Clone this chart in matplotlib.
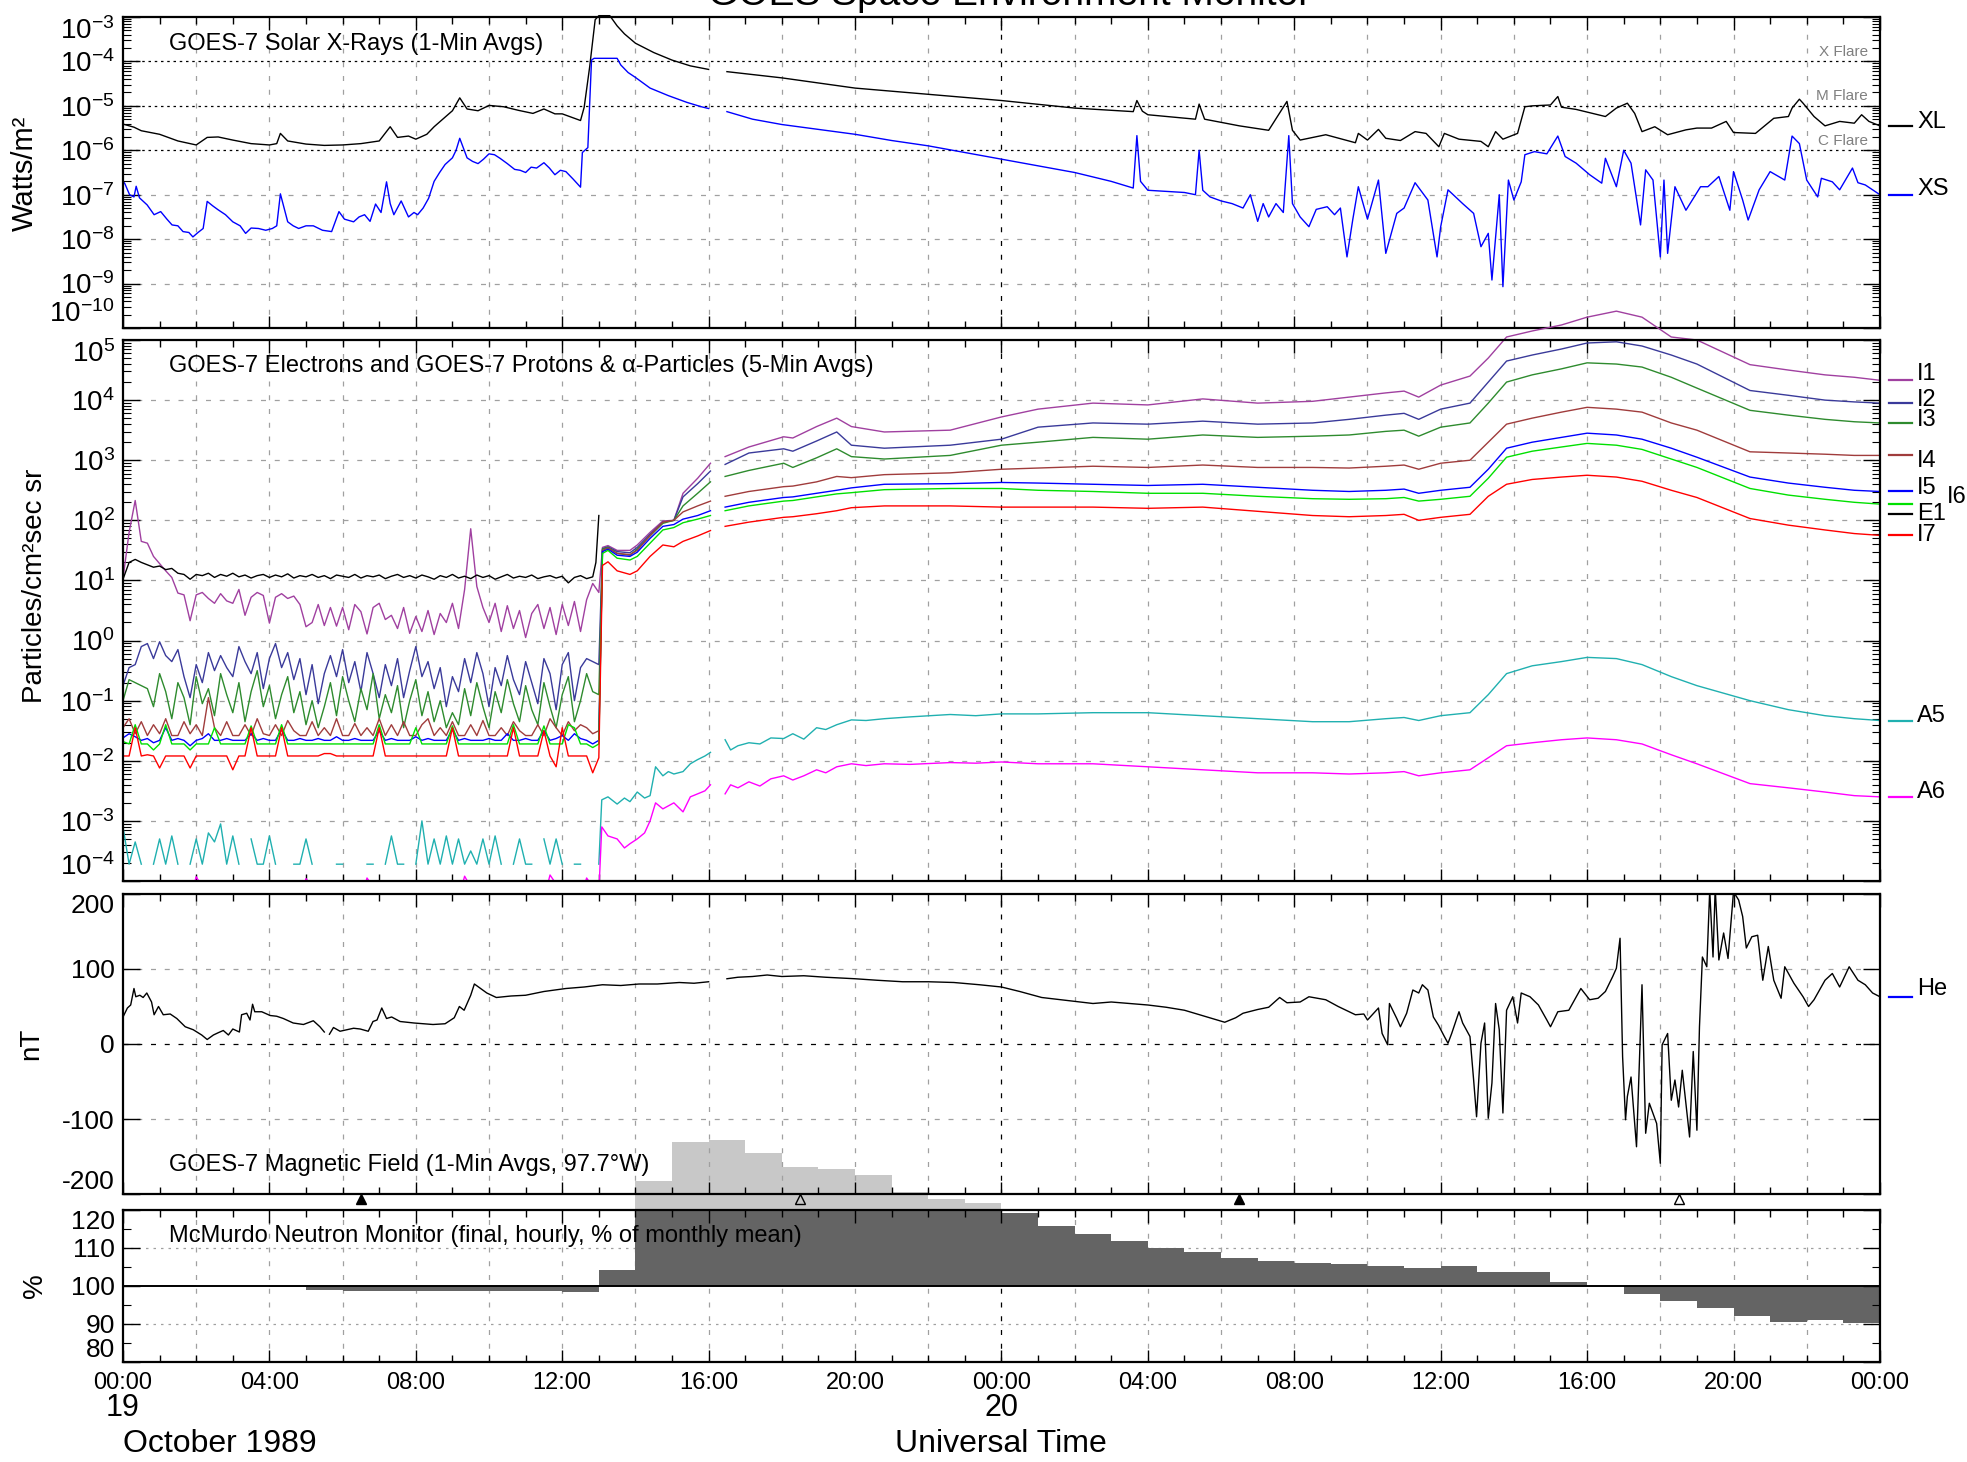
import numpy as np
import matplotlib
matplotlib.use("Agg")
import matplotlib.pyplot as plt
import matplotlib.transforms as mtransforms
from matplotlib.ticker import MultipleLocator, FixedLocator, NullFormatter, FuncFormatter

plt.rcParams['font.family'] = ['Liberation Sans', 'DejaVu Sans']
plt.rcParams['mathtext.fontset'] = 'custom'
plt.rcParams['mathtext.rm'] = 'Liberation Sans'
plt.rcParams['mathtext.it'] = 'Liberation Sans:italic'
plt.rcParams['mathtext.default'] = 'regular'
plt.rcParams['axes.unicode_minus'] = False

nan = np.nan

#%% Data ######################################################################
# hours since 1989-10-19 00:00 UT, values as log10 where noted

# GOES-7 X-rays, log10(W/m^2)
xl = [(0.0, -5.41), (0.3, -5.48), (0.5, -5.56), (1.0, -5.64), (1.5, -5.79), (2.0, -5.88),
      (2.3, -5.71), (2.6, -5.70), (3.0, -5.77), (3.5, -5.85), (4.0, -5.88), (4.2, -5.85),
      (4.3, -5.62), (4.5, -5.79), (5.0, -5.86), (5.5, -5.89), (6.0, -5.88), (6.5, -5.85),
      (7.0, -5.79), (7.3, -5.47), (7.5, -5.71), (7.8, -5.68), (8.0, -5.75), (8.3, -5.64),
      (8.5, -5.47), (9.0, -5.11), (9.2, -4.82), (9.4, -5.07), (9.7, -5.11), (10.0, -4.99),
      (10.4, -5.02), (10.8, -5.10), (11.2, -5.17), (11.5, -5.07), (11.8, -5.18), (12.0, -5.18),
      (12.5, -5.33), (12.6, -5.03), (12.75, -4.12), (12.9, -3.06), (13.0, -2.97), (13.3, -2.97),
      (13.5, -3.20), (13.7, -3.38), (14.0, -3.59), (14.5, -3.80), (15.0, -3.97), (15.5, -4.10),
      (16.0, -4.18), (16.25, nan), (16.5, -4.23), (18.0, -4.37), (20.0, -4.60), (22.0, -4.74),
      (24.0, -4.88), (26.0, -5.05), (27.6, -5.13), (27.7, -4.88), (27.85, -5.12), (28.0, -5.20),
      (29.3, -5.30), (29.4, -4.96), (29.55, -5.30), (30.5, -5.45), (31.3, -5.55), (31.8, -4.90),
      (31.95, -5.55), (32.16, -5.77), (32.86, -5.65), (33.67, -5.83), (33.75, -5.62), (34.0, -5.77),
      (34.3, -5.53), (34.5, -5.73), (34.9, -5.78), (35.3, -5.58), (35.6, -5.62), (35.95, -5.92),
      (36.1, -5.62), (36.5, -5.75), (37.1, -5.80), (37.3, -5.92), (37.5, -5.58), (37.7, -5.75),
      (38.1, -5.62), (38.3, -5.02), (38.5, -5.00), (39.0, -4.98), (39.2, -4.79), (39.3, -5.03),
      (39.7, -5.08), (40.3, -5.20), (40.5, -5.24), (40.8, -5.05), (41.1, -4.94), (41.3, -5.17),
      (41.5, -5.58), (41.85, -5.47), (42.2, -5.65), (42.7, -5.54), (43.0, -5.50), (43.4, -5.50),
      (43.8, -5.35), (44.0, -5.60), (44.6, -5.62), (45.1, -5.28), (45.5, -5.24), (45.6, -5.05),
      (45.8, -4.85), (45.9, -4.94), (46.2, -5.24), (46.5, -5.45), (46.9, -5.35), (47.3, -5.39),
      (47.5, -5.20), (47.7, -5.35), (48.0, -5.45)]

xs = [(0.0, -6.70), (0.05, -6.75), (0.18, -7.00), (0.3, -7.05), (0.36, -6.81), (0.45, -7.07),
      (0.66, -7.23), (0.85, -7.45), (1.03, -7.38), (1.2, -7.55), (1.34, -7.68), (1.5, -7.70),
      (1.64, -7.83), (1.8, -7.85), (1.91, -7.95), (2.05, -7.85), (2.19, -7.76), (2.3, -7.15),
      (2.45, -7.25), (2.6, -7.34), (2.8, -7.45), (3.0, -7.61), (3.2, -7.70), (3.35, -7.87),
      (3.5, -7.75), (3.7, -7.76), (3.9, -7.80), (4.08, -7.76), (4.2, -7.70), (4.3, -6.98),
      (4.4, -7.30), (4.5, -7.61), (4.65, -7.70), (4.8, -7.76), (5.0, -7.70), (5.2, -7.70),
      (5.45, -7.80), (5.7, -7.83), (5.9, -7.38), (6.05, -7.55), (6.3, -7.61), (6.45, -7.50),
      (6.6, -7.45), (6.75, -7.60), (6.9, -7.21), (7.05, -7.40), (7.2, -6.71), (7.3, -7.20),
      (7.4, -7.45), (7.6, -7.14), (7.8, -7.50), (7.95, -7.40), (8.05, -7.45), (8.2, -7.30),
      (8.35, -7.08), (8.5, -6.70), (8.65, -6.50), (8.8, -6.32), (9.0, -6.17), (9.1, -6.00),
      (9.2, -5.73), (9.3, -5.95), (9.4, -6.17), (9.55, -6.25), (9.7, -6.30), (9.85, -6.20),
      (10.0, -6.08), (10.15, -6.10), (10.3, -6.18), (10.5, -6.30), (10.7, -6.43), (10.85, -6.45),
      (11.0, -6.50), (11.15, -6.38), (11.3, -6.40), (11.5, -6.28), (11.65, -6.40), (11.8, -6.55),
      (11.95, -6.45), (12.1, -6.48), (12.3, -6.65), (12.5, -6.83), (12.55, -6.05), (12.7, -5.94),
      (12.8, -3.97), (12.87, -3.93), (13.5, -3.93), (13.6, -4.08), (13.8, -4.25), (14.0, -4.36),
      (14.4, -4.60), (14.9, -4.77), (15.4, -4.92), (15.8, -5.02), (16.0, -5.06), (16.25, nan),
      (16.5, -5.13), (17.2, -5.30), (18.0, -5.42), (19.0, -5.53), (20.0, -5.64), (21.0, -5.78),
      (22.0, -5.90), (23.0, -6.05), (24.0, -6.20), (25.0, -6.35), (26.0, -6.50), (27.0, -6.70),
      (27.6, -6.85), (27.7, -5.67), (27.8, -6.70), (28.0, -6.90), (29.0, -6.95), (29.3, -7.00),
      (29.4, -6.00), (29.5, -6.90), (29.7, -7.05), (30.0, -7.14), (30.3, -7.20), (30.6, -7.30),
      (30.8, -7.00), (31.0, -7.60), (31.15, -7.20), (31.3, -7.50), (31.5, -7.20), (31.7, -7.40),
      (31.85, -5.67), (31.95, -7.20), (32.16, -7.50), (32.4, -7.72), (32.6, -7.33), (32.9, -7.27),
      (33.1, -7.45), (33.26, -7.30), (33.44, -8.40), (33.6, -7.55), (33.75, -6.82), (34.0, -7.55),
      (34.3, -6.67), (34.5, -8.32), (34.8, -7.42), (35.0, -7.30), (35.3, -6.73), (35.65, -7.12),
      (35.9, -8.40), (36.0, -7.72), (36.2, -6.89), (36.6, -7.20), (36.9, -7.42), (37.1, -8.17),
      (37.3, -7.87), (37.4, -8.92), (37.6, -7.00), (37.7, -9.07), (37.85, -6.67), (38.0, -7.12),
      (38.2, -6.71), (38.3, -6.10), (38.56, -6.03), (38.9, -6.08), (39.2, -5.68), (39.4, -6.14),
      (39.7, -6.29), (40.07, -6.55), (40.4, -6.74), (40.5, -6.18), (40.8, -6.82), (41.0, -6.00),
      (41.2, -6.29), (41.46, -7.68), (41.6, -6.44), (41.8, -6.67), (42.0, -8.40), (42.1, -6.67),
      (42.2, -8.32), (42.4, -6.82), (42.7, -7.35), (43.1, -6.82), (43.3, -6.82), (43.6, -6.59),
      (43.9, -7.35), (44.0, -6.48), (44.25, -7.12), (44.4, -7.57), (44.7, -6.89), (45.0, -6.48),
      (45.4, -6.67), (45.6, -5.68), (45.8, -5.85), (46.0, -6.67), (46.3, -7.05), (46.4, -6.63),
      (46.7, -6.71), (46.9, -6.89), (47.25, -6.40), (47.4, -6.73), (47.6, -6.78), (48.0, -7.00)]

# particles, log10(p/cm2 s sr); quiet interval sampled every 10 min from 00:00
e1_quiet = [1.02, 1.30, 1.35, 1.30, 1.26, 1.22, 1.24, 1.18, 1.20, 1.12, 1.10, 1.02, 1.10, 1.08,
            1.12, 1.05, 1.10, 1.07, 1.12, 1.06, 1.09, 1.04, 1.08, 1.10, 1.05, 1.09, 1.06, 1.11,
            1.04, 1.08, 1.06, 1.10, 1.05, 1.08, 1.03, 1.09, 1.07, 1.05, 1.10, 1.04, 1.08, 1.06,
            1.09, 1.03, 1.07, 1.10, 1.05, 1.08, 1.04, 1.09, 1.06, 1.02, 1.08, 1.05, 1.10, 1.04,
            1.07, 1.03, 1.09, 1.05, 1.08, 1.02, 1.06, 1.10, 1.04, 1.07, 1.05, 1.09, 1.03, 1.06,
            1.08, 1.04, 1.07, 0.96, 1.05, 1.08, 1.03, 1.06]
e1_spike = [(12.92, 1.30), (13.0, 2.08)]

i1_quiet = [1.03, 1.80, 2.33, 1.65, 1.62, 1.40, 1.28, 1.16, 1.05, 0.79, 0.76, 0.33, 0.76, 0.80,
            0.70, 0.62, 0.78, 0.66, 0.62, 0.85, 0.42, 0.72, 0.80, 0.75, 0.29, 0.72, 0.78, 0.70,
            0.74, 0.60, 0.23, 0.30, 0.60, 0.25, 0.55, 0.24, 0.55, 0.18, 0.60, 0.48, 0.11, 0.55,
            0.62, 0.35, 0.42, 0.20, 0.55, 0.12, 0.40, 0.15, 0.50, 0.10, 0.45, 0.30, 0.62, 0.20,
            0.85, 1.86, 0.90, 0.55, 0.30, 0.62, 0.15, 0.58, 0.20, 0.50, 0.05, 0.45, 0.60, 0.20,
            0.55, 0.10, 0.60, 0.25, 0.65, 0.15, 0.68, 0.95]
i2_quiet = [-0.75, -0.45, -0.40, -0.10, -0.05, -0.30, -0.02, -0.25, -0.35, -0.15, -0.60, -0.95,
            -0.40, -0.70, -0.20, -0.50, -0.25, -0.45, -0.60, -0.10, -0.35, -0.55, -0.20, -0.80,
            -0.30, -0.05, -0.45, -0.20, -0.65, -0.30, -0.90, -0.40, -1.05, -0.55, -0.25, -0.60,
            -0.15, -0.70, -0.35, -0.85, -0.20, -0.55, -0.95, -0.40, -0.75, -0.30, -0.95, -0.50,
            -0.10, -0.60, -0.35, -0.80, -0.45, -1.10, -0.60, -0.85, -0.30, -0.70, -0.20, -0.55,
            -1.10, -0.45, -0.75, -0.25, -0.65, -0.90, -0.35, -0.70, -1.05, -0.30, -0.55, -1.15,
            -0.40, -0.20, -1.00, -0.45, -0.30, -0.35]
i3_quiet = [-1.00, -0.65, -0.70, -0.75, -0.80, -1.10, -0.55, -0.85, -1.30, -0.70, -0.95, -1.40,
            -0.60, -1.05, -0.80, -1.25, -0.55, -0.90, -1.20, -0.70, -1.35, -0.85, -0.50, -1.10,
            -0.75, -1.30, -0.90, -0.60, -1.20, -0.85, -1.40, -1.00, -1.45, -1.10, -0.70, -1.25,
            -0.60, -1.00, -1.35, -0.80, -1.15, -0.55, -1.30, -0.90, -1.20, -0.75, -1.45, -1.00,
            -0.65, -1.25, -0.85, -1.35, -1.00, -1.45, -1.20, -1.40, -0.80, -1.25, -0.70, -1.10,
            -1.45, -0.85, -1.20, -0.65, -1.05, -1.35, -0.75, -1.15, -1.40, -0.70, -1.10, -1.45,
            -0.90, -0.60, -1.35, -1.00, -0.55, -0.85]
i4_quiet = [-1.45, -1.30, -1.55, -1.35, -1.58, -1.40, -1.55, -1.30, -1.58, -1.58, -1.35, -1.55,
            -1.40, -1.58, -0.95, -1.45, -1.58, -1.35, -1.58, -1.58, -1.40, -1.58, -1.30, -1.55,
            -1.58, -1.40, -1.58, -1.33, -1.50, -1.58, -1.58, -1.35, -1.58, -1.45, -1.58, -1.30,
            -1.58, -1.58, -1.38, -1.58, -1.45, -1.58, -1.30, -1.58, -1.40, -1.58, -1.35, -1.58,
            -1.58, -1.40, -1.30, -1.58, -1.45, -1.58, -1.35, -1.58, -1.58, -1.40, -1.58, -1.33,
            -1.58, -1.58, -1.45, -1.58, -1.35, -1.50, -1.58, -1.58, -1.40, -1.58, -1.30, -1.45,
            -1.58, -1.35, -1.50, -1.40, -1.45, -1.55]
i5_quiet = [-1.62, -1.55, -1.60, -1.66, -1.63, -1.70, -1.66, -1.45, -1.66, -1.63, -1.66, -1.75,
            -1.66, -1.63, -1.55, -1.66, -1.66, -1.63, -1.66, -1.66, -1.66, -1.55, -1.66, -1.63,
            -1.66, -1.66, -1.48, -1.66, -1.66, -1.63, -1.66, -1.66, -1.63, -1.66, -1.66, -1.60,
            -1.66, -1.66, -1.63, -1.66, -1.66, -1.66, -1.50, -1.66, -1.63, -1.66, -1.66, -1.66,
            -1.60, -1.66, -1.63, -1.66, -1.66, -1.66, -1.48, -1.66, -1.63, -1.66, -1.66, -1.66,
            -1.63, -1.66, -1.66, -1.55, -1.66, -1.66, -1.63, -1.66, -1.66, -1.50, -1.66, -1.63,
            -1.58, -1.66, -1.55, -1.63, -1.66, -1.72]
i6_quiet = [-1.68, -1.72, -1.40, -1.72, -1.72, -1.82, -1.72, -1.40, -1.72, -1.72, -1.72, -1.82,
            -1.72, -1.72, -1.72, -1.45, -1.72, -1.72, -1.72, -1.72, -1.72, -1.42, -1.72, -1.72,
            -1.72, -1.72, -1.40, -1.72, -1.72, -1.72, -1.72, -1.72, -1.72, -1.72, -1.72, -1.72,
            -1.72, -1.72, -1.72, -1.72, -1.72, -1.72, -1.40, -1.72, -1.72, -1.72, -1.72, -1.72,
            -1.45, -1.72, -1.72, -1.72, -1.72, -1.72, -1.42, -1.72, -1.72, -1.72, -1.72, -1.72,
            -1.72, -1.72, -1.72, -1.72, -1.40, -1.72, -1.72, -1.72, -1.72, -1.42, -1.72, -1.72,
            -1.72, -1.40, -1.45, -1.72, -1.72, -1.78]
i7_quiet = [-1.92, -1.92, -1.45, -1.92, -1.90, -1.92, -2.12, -1.92, -1.92, -1.92, -1.92, -2.12,
            -1.92, -1.92, -1.92, -1.92, -1.92, -1.92, -2.15, -1.92, -1.92, -1.45, -1.92, -1.92,
            -1.92, -1.92, -1.45, -1.92, -1.92, -1.92, -1.92, -1.92, -1.92, -1.88, -1.88, -1.92,
            -1.92, -1.92, -1.92, -1.92, -1.92, -1.92, -1.45, -1.92, -1.92, -1.92, -1.92, -1.92,
            -1.92, -1.92, -1.92, -1.92, -1.92, -1.92, -1.45, -1.92, -1.92, -1.92, -1.92, -1.92,
            -1.92, -1.92, -1.92, -1.92, -1.45, -1.92, -1.92, -1.92, -1.92, -1.50, -1.92, -2.10,
            -1.45, -1.92, -1.92, -1.92, -1.92, -2.20]
a5_quiet = [-3.10, -3.72, -3.35, -3.72, nan, -3.72, -3.30, -3.72, -3.25, -3.72, nan, -3.72,
            -3.30, -3.72, -3.20, -3.35, -3.05, -3.72, -3.25, -3.72, nan, -3.30, -3.72, -3.72,
            -3.25, -3.72, nan, nan, -3.72, -3.72, -3.30, -3.72, nan, nan, nan, -3.72, -3.72, nan,
            -3.72, nan, -3.72, -3.72, nan, -3.72, -3.25, -3.72, -3.72, nan, -3.72, -3.00, -3.72,
            -3.30, -3.72, -3.25, -3.72, -3.30, -3.72, -3.50, -3.72, -3.30, -3.72, -3.25, -3.72,
            nan, -3.72, -3.30, -3.72, -3.72, nan, -3.30, -3.72, -3.30, -3.72, nan, -3.72, -3.72,
            nan, -3.72]
a6_quiet = [-4.3, -4.3, -4.3, -4.3, -4.3, -4.3, -4.3, -4.3, -4.3, -4.3, -4.3, -4.3, -3.93, -4.1,
            -4.3, -4.3, -4.3, -4.3, -4.3, -4.3, -4.3, -4.3, -4.3, -4.3, -4.3, -4.3, -4.3, -4.3,
            -4.3, -4.3, -3.96, -4.1, -4.3, -4.3, -4.3, -4.3, -4.3, -4.3, -4.3, -4.3, -3.95, -4.1,
            -4.3, -4.3, -4.3, -4.3, -4.3, -4.3, -4.3, -4.3, -4.3, -4.3, -4.3, -4.3, -4.3, -4.3,
            -3.92, -4.1, -4.3, -4.3, -4.3, -4.3, -4.3, -4.3, -4.3, -4.3, -4.3, -4.3, -4.3, -4.3,
            -3.90, -4.05, -4.3, -4.3, -4.3, -4.3, -3.95, -4.1]

# after the proton onset
p_hours = [13.0, 13.1, 13.25, 13.5, 13.85, 14.05, 14.4, 14.75, 15.05, 15.3, 15.7, 16.05, 16.25,
           16.45, 17.1, 18.05, 18.3, 18.95, 19.5, 19.9, 20.8, 22.6, 24.0, 25.0, 26.5, 28.0, 29.5,
           31.0, 32.5, 33.5, 34.5, 35.0, 35.4, 36.0, 36.8, 37.3, 37.8, 38.5, 39.3, 40.0, 40.8,
           41.5, 42.3, 43.0, 44.45, 45.5, 46.5, 47.3, 48.0]
i1_event = [0.80, 1.55, 1.58, 1.50, 1.50, 1.59, 1.80, 1.99, 2.00, 2.45, 2.70, 2.95, nan, 3.06,
            3.22, 3.39, 3.37, 3.56, 3.70, 3.56, 3.47, 3.50, 3.72, 3.85, 3.95, 3.92, 4.02, 3.95,
            3.98, 4.05, 4.12, 4.15, 4.05, 4.25, 4.40, 4.70, 5.05, 5.15, 5.25, 5.38, 5.48, 5.38,
            5.05, 5.00, 4.59, 4.50, 4.42, 4.38, 4.33]
i2_event = [-0.40, 1.53, 1.56, 1.48, 1.46, 1.55, 1.77, 1.97, 2.00, 2.39, 2.61, 2.82, nan, 2.93,
            3.12, 3.19, 3.15, 3.32, 3.47, 3.25, 3.20, 3.25, 3.35, 3.55, 3.62, 3.60, 3.65, 3.60,
            3.62, 3.68, 3.75, 3.78, 3.68, 3.85, 3.95, 4.30, 4.65, 4.75, 4.85, 4.95, 4.97, 4.90,
            4.75, 4.60, 4.16, 4.08, 4.00, 3.97, 3.95]
i3_event = [-0.90, 1.52, 1.55, 1.45, 1.42, 1.52, 1.74, 1.95, 2.00, 2.24, 2.45, 2.64, nan, 2.73,
            2.83, 2.95, 2.88, 3.04, 3.19, 3.06, 3.02, 3.08, 3.25, 3.30, 3.38, 3.35, 3.42, 3.38,
            3.40, 3.42, 3.48, 3.50, 3.40, 3.55, 3.62, 3.95, 4.30, 4.42, 4.52, 4.62, 4.60, 4.55,
            4.38, 4.20, 3.83, 3.75, 3.68, 3.64, 3.62]
i4_event = [-1.50, 1.50, 1.54, 1.45, 1.43, 1.50, 1.75, 1.97, 2.00, 2.14, 2.24, 2.32, nan, 2.40,
            2.48, 2.56, 2.57, 2.64, 2.73, 2.71, 2.76, 2.79, 2.85, 2.87, 2.90, 2.88, 2.92, 2.88,
            2.88, 2.87, 2.90, 2.92, 2.85, 2.95, 3.00, 3.30, 3.60, 3.70, 3.80, 3.88, 3.85, 3.80,
            3.62, 3.50, 3.14, 3.12, 3.10, 3.08, 3.08]
i5_event = [-1.66, 1.48, 1.52, 1.42, 1.40, 1.47, 1.70, 1.90, 1.93, 2.02, 2.08, 2.16, nan, 2.22,
            2.30, 2.38, 2.39, 2.45, 2.50, 2.54, 2.60, 2.61, 2.63, 2.62, 2.60, 2.58, 2.60, 2.55,
            2.50, 2.48, 2.50, 2.52, 2.45, 2.50, 2.55, 2.85, 3.20, 3.30, 3.38, 3.45, 3.42, 3.35,
            3.20, 3.05, 2.72, 2.62, 2.55, 2.50, 2.48]
i6_event = [-1.72, 1.45, 1.50, 1.37, 1.34, 1.40, 1.62, 1.84, 1.88, 1.96, 2.02, 2.08, nan, 2.16,
            2.24, 2.32, 2.33, 2.39, 2.44, 2.46, 2.51, 2.53, 2.53, 2.50, 2.48, 2.45, 2.45, 2.40,
            2.36, 2.35, 2.36, 2.38, 2.32, 2.35, 2.40, 2.70, 3.05, 3.15, 3.22, 3.28, 3.25, 3.18,
            3.02, 2.88, 2.53, 2.42, 2.35, 2.30, 2.27]
i7_event = [-1.95, 1.25, 1.31, 1.16, 1.10, 1.16, 1.40, 1.59, 1.56, 1.65, 1.74, 1.83, nan, 1.90,
            1.97, 2.05, 2.06, 2.11, 2.16, 2.21, 2.24, 2.24, 2.22, 2.22, 2.22, 2.20, 2.22, 2.15,
            2.08, 2.06, 2.08, 2.10, 2.00, 2.05, 2.10, 2.40, 2.60, 2.68, 2.72, 2.75, 2.72, 2.65,
            2.50, 2.38, 2.03, 1.92, 1.84, 1.78, 1.75]

a_hours = [13.0, 13.08, 13.25, 13.5, 13.7, 13.85, 14.05, 14.25, 14.4, 14.55, 14.75, 14.9, 15.05,
           15.3, 15.5, 15.7, 15.9, 16.05, 16.25, 16.45, 16.6, 16.8, 17.1, 17.4, 17.7, 18.05, 18.3,
           18.6, 18.95, 19.2, 19.5, 19.9, 20.3, 20.8, 21.5, 22.6, 23.3, 24.0, 25.0, 26.5, 28.0,
           29.5, 31.0, 32.5, 33.5, 34.5, 35.0, 35.4, 36.0, 36.8, 37.3, 37.8, 38.5, 39.3, 40.0,
           40.8, 41.5, 42.3, 43.0, 44.45, 45.5, 46.5, 47.3, 48.0]
a5_event = [-3.72, -2.65, -2.60, -2.72, -2.62, -2.68, -2.52, -2.62, -2.58, -2.10, -2.25, -2.18,
            -2.22, -2.18, -2.05, -1.98, -1.92, -1.86, nan, -1.65, -1.82, -1.75, -1.70, -1.72,
            -1.62, -1.63, -1.55, -1.64, -1.45, -1.48, -1.40, -1.32, -1.33, -1.30, -1.27, -1.23,
            -1.25, -1.22, -1.22, -1.20, -1.20, -1.25, -1.30, -1.35, -1.35, -1.30, -1.28, -1.33,
            -1.25, -1.20, -0.90, -0.55, -0.42, -0.35, -0.28, -0.30, -0.40, -0.60, -0.75, -1.00,
            -1.15, -1.25, -1.30, -1.33]
a6_event = [-4.20, -3.10, -3.25, -3.30, -3.45, -3.38, -3.30, -3.20, -3.00, -2.70, -2.80, -2.75,
            -2.70, -2.85, -2.60, -2.55, -2.50, -2.40, nan, -2.55, -2.40, -2.45, -2.35, -2.42,
            -2.30, -2.25, -2.32, -2.25, -2.15, -2.20, -2.10, -2.05, -2.08, -2.05, -2.06, -2.03,
            -2.04, -2.02, -2.05, -2.05, -2.10, -2.15, -2.20, -2.20, -2.22, -2.20, -2.18, -2.25,
            -2.20, -2.15, -1.95, -1.75, -1.70, -1.65, -1.62, -1.65, -1.72, -1.90, -2.05, -2.38,
            -2.45, -2.52, -2.58, -2.60]

# GOES-7 magnetic field He component, nT
he = [(0.0, 36), (0.12, 48), (0.21, 52), (0.3, 74), (0.35, 63), (0.46, 65), (0.55, 62), (0.65, 68),
      (0.78, 56), (0.85, 39), (0.97, 50), (1.1, 39), (1.29, 40), (1.47, 34), (1.7, 23), (1.92, 19),
      (2.15, 12), (2.3, 6), (2.47, 12), (2.6, 15), (2.74, 18), (2.88, 12), (3.0, 20), (3.18, 16),
      (3.24, 39), (3.38, 41), (3.47, 32), (3.54, 53), (3.6, 43), (3.79, 43), (4.02, 38), (4.2, 37),
      (4.38, 34), (4.65, 28), (4.93, 26), (5.2, 31), (5.38, 23), (5.5, 16), (5.57, nan), (5.64, 13),
      (5.75, 22), (5.93, 17), (6.3, 21), (6.48, 20), (6.7, 17), (6.83, 30), (6.94, 32), (7.07, 48),
      (7.2, 34), (7.34, 36), (7.57, 30), (7.95, 28), (8.47, 26), (8.8, 27), (9.05, 35), (9.19, 50),
      (9.32, 45), (9.5, 65), (9.6, 80), (9.74, 75), (9.94, 68), (10.2, 62), (10.6, 64), (11.0, 65),
      (11.5, 70), (12.1, 74), (12.6, 76), (13.1, 79), (13.6, 78), (14.1, 80), (14.6, 80), (15.2, 82),
      (15.6, 81), (16.0, 83), (16.25, nan), (16.5, 87), (16.8, 89), (17.2, 90), (17.6, 92),
      (18.0, 90), (18.6, 91), (19.2, 89), (20.0, 87), (20.6, 85), (21.3, 83), (22.0, 83), (22.7, 82),
      (23.4, 79), (24.0, 76), (24.5, 70), (25.1, 62), (25.8, 58), (26.5, 54), (27.0, 56), (27.5, 54),
      (28.0, 52), (28.5, 49), (29.0, 45), (29.55, 37), (30.1, 29), (30.4, 35), (30.6, 41), (31.0, 46),
      (31.3, 49), (31.6, 62), (31.8, 55), (32.16, 56), (32.4, 63), (32.86, 59), (33.2, 50),
      (33.67, 39), (33.9, 40), (34.0, 32), (34.3, 48), (34.4, 14), (34.55, -1), (34.6, 54),
      (34.8, 34), (34.9, 23), (35.07, 41), (35.24, 72), (35.4, 68), (35.5, 79), (35.65, 72),
      (35.8, 36), (35.94, 25), (36.1, 10), (36.2, 1), (36.3, 14), (36.5, 43), (36.6, 28), (36.8, 10),
      (36.9, -48), (36.98, -97), (37.1, 1), (37.2, 28), (37.3, -99), (37.4, -52), (37.5, 54),
      (37.6, 19), (37.7, -92), (37.8, 45), (37.97, 63), (38.1, 28), (38.2, 68), (38.44, 63),
      (38.67, 52), (38.9, 32), (39.0, 23), (39.2, 43), (39.5, 45), (39.83, 74), (40.07, 59),
      (40.3, 61), (40.5, 70), (40.7, 90), (40.8, 101), (40.9, 141), (40.97, -17), (41.05, -101),
      (41.1, -70), (41.2, -44), (41.35, -137), (41.5, 79), (41.6, -119), (41.7, -79), (41.9, -106),
      (42.0, -159), (42.05, -1), (42.2, 14), (42.3, -75), (42.4, -48), (42.5, -84), (42.6, -35),
      (42.8, -124), (42.9, -10), (43.0, -115), (43.07, 23), (43.15, 116), (43.27, 103), (43.35, 205),
      (43.44, 116), (43.5, 208), (43.6, 112), (43.73, 148), (43.85, 114), (44.0, 203), (44.14, 192),
      (44.25, 170), (44.35, 128), (44.5, 143), (44.66, 145), (44.8, 85), (44.95, 130), (45.1, 85),
      (45.3, 61), (45.4, 103), (45.65, 81), (45.9, 63), (46.05, 50), (46.2, 59), (46.5, 85),
      (46.7, 94), (46.9, 76), (47.16, 103), (47.4, 85), (47.6, 79), (47.8, 68), (48.0, 63)]

# McMurdo neutron monitor, hourly % of monthly mean (Oct 19 00h .. Oct 20 23h)
neutron = [100.0, 100.2, 100.0, 100.0, 99.7, 99.0, 98.7, 98.7, 98.7, 98.7, 98.7, 98.7,
           98.4, 104.2, 127.6, 137.9, 138.4, 135.0, 131.3, 130.8, 129.2, 124.7, 122.9, 121.8,
           119.1, 115.8, 113.6, 111.8, 110.0, 108.9, 107.4, 106.6, 106.1, 105.8, 105.3, 104.8,
           105.3, 103.6, 103.6, 101.1, 100.1, 98.0, 96.1, 94.3, 92.2, 90.6, 91.1, 90.3]

# local midnight / local noon of GOES-7 (97.7 W)
local_midnight = [6.5, 30.5]
local_noon = [18.5, 42.5]

#%% Helpers ###################################################################

GRID = '#a0a0a0'


def pairs(p):
    t, v = zip(*p)
    return np.array(t, float), np.array(v, float)


def quiet_hours(vals):
    return np.arange(len(vals)) / 6.0


def time_axis(ax):
    ax.set_xlim(0, 48)
    ax.xaxis.set_major_locator(MultipleLocator(4))
    ax.xaxis.set_minor_locator(MultipleLocator(1))
    ax.tick_params(axis='x', which='both', direction='in', top=True, bottom=True,
                   labelbottom=False)
    ax.tick_params(axis='x', which='major', length=9, width=1.0)
    ax.tick_params(axis='x', which='minor', length=5, width=1.0)
    for h in range(2, 48, 2):
        ax.axvline(h, color='black' if h == 24 else GRID, lw=0.9,
                   ls=(0, (4, 7)), zorder=0.5)
    for s in ax.spines.values():
        s.set_linewidth(1.6)


def y_style(ax, size=17):
    ax.tick_params(axis='y', which='both', direction='in', left=True, right=True,
                   labelsize=size, pad=6)
    ax.tick_params(axis='y', which='major', length=12, width=1.0)
    ax.tick_params(axis='y', which='minor', length=6, width=0.8)


def end_labels(ax):
    ticks = ax.yaxis.get_major_ticks()
    ticks[0].label1.set_va('bottom')
    ticks[-1].label1.set_va('top')


def side_label(ax, name, y, color, up=6, dx=0.0):
    # short coloured line at the right edge, name beside it (up = text lift in px)
    tr = mtransforms.blended_transform_factory(ax.transAxes, ax.transData)
    ax.plot([1.0051, 1.0182], [y, y], color=color, lw=1.6, transform=tr, clip_on=False)
    ax.annotate(name, xy=(1.0211 + dx, y), xycoords=tr, xytext=(0, up * 0.72),
                textcoords='offset points', ha='left', va='center', fontsize=17)


#%% Figure ####################################################################

fig = plt.figure(figsize=(19.67, 14.62), dpi=100)
L, W = 0.06253, 0.8932
ax4 = fig.add_axes([L, 0.06840, W, 0.10397])
ax1 = fig.add_axes([L, 0.77565, W, 0.21272])
ax2 = fig.add_axes([L, 0.39740, W, 0.37004])
ax3 = fig.add_axes([L, 0.18331, W, 0.20520])
ax4.set_zorder(0)
ax1.set_zorder(1)
ax2.set_zorder(2)
ax3.set_zorder(3)
for ax in (ax1, ax2, ax3):
    ax.set_facecolor('none')

# ---- panel 1: X-rays
time_axis(ax1)
ax1.set_yscale('log')
ax1.set_ylim(1e-10, 1e-3)
ax1.yaxis.set_major_locator(FixedLocator(10.0 ** np.arange(-10, -2)))
ax1.yaxis.set_minor_locator(FixedLocator([m * 10.0 ** d for d in range(-10, -3) for m in range(2, 10)]))
ax1.yaxis.set_minor_formatter(NullFormatter())
y_style(ax1, 20)
end_labels(ax1)
for d in (-9, -8, -7):
    ax1.axhline(10.0 ** d, color=GRID, lw=0.9, ls=(0, (4, 7)), zorder=0.5)
for d in (-4, -5, -6):
    ax1.axhline(10.0 ** d, color='black', lw=0.9, ls=(0, (2, 3)), zorder=0.5)
t, v = pairs(xl)
ax1.plot(t, 10 ** v, color='black', lw=1.0, clip_on=False)
t, v = pairs(xs)
ax1.plot(t, 10 ** v, color='#0000ff', lw=1.0)
tr1 = mtransforms.blended_transform_factory(ax1.transAxes, ax1.transData)
for name, d in (('X Flare', -4), ('M Flare', -5), ('C Flare', -6)):
    ax1.annotate(name, xy=(0.9932, 10.0 ** d), xycoords=tr1, xytext=(0, 2),
                 textcoords='offset points', ha='right', va='bottom', fontsize=11,
                 color='#808080')
ax1.text(0.0262, 0.913, 'GOES-7 Solar X-Rays (1-Min Avgs)', transform=ax1.transAxes,
         fontsize=17, va='center', ha='left')
side_label(ax1, 'XL', 10 ** pairs(xl)[1][-1], 'black', up=4)
side_label(ax1, 'XS', 10 ** pairs(xs)[1][-1], '#0000ff', up=6)

# ---- panel 2: particles
time_axis(ax2)
ax2.set_yscale('log')
ax2.set_ylim(1e-4, 1e5)
ax2.yaxis.set_major_locator(FixedLocator(10.0 ** np.arange(-4, 6)))
ax2.yaxis.set_minor_locator(FixedLocator([m * 10.0 ** d for d in range(-4, 5) for m in range(2, 10)]))
ax2.yaxis.set_minor_formatter(NullFormatter())
y_style(ax2, 20)
end_labels(ax2)
for d in range(-3, 5):
    ax2.axhline(10.0 ** d, color=GRID, lw=0.9, ls=(0, (4, 7)), zorder=0.5)

ph = np.array(p_hours)
channels = [
    ('I1', i1_quiet, i1_event, '#a040a0', 6),
    ('I2', i2_quiet, i2_event, '#3a3a9a', 3),
    ('I3', i3_quiet, i3_event, '#2e8b2e', 3),
    ('I4', i4_quiet, i4_event, '#a03c3c', -6),
    ('I5', i5_quiet, i5_event, '#0000ff', 3),
    ('E1', i6_quiet, i6_event, '#00e000', -10),
    ('I7', i7_quiet, i7_event, '#ff0000', 0),
]
for name, q, e, c, up in channels:
    tt = np.concatenate([quiet_hours(q), ph])
    vv = np.concatenate([q, e])
    ax2.plot(tt, 10 ** vv, color=c, lw=1.0, clip_on=(name != 'I1'))
    side_label(ax2, name, 10 ** e[-1], c, up=up)

st, sv = pairs(e1_spike)
ax2.plot(np.concatenate([quiet_hours(e1_quiet), st]),
         10 ** np.concatenate([e1_quiet, sv]), color='black', lw=1.0)

ah = np.array(a_hours)
for name, q, e, c in (('A5', a5_quiet, a5_event, '#20b0b0'),
                      ('A6', a6_quiet, a6_event, '#ff00ff')):
    ax2.plot(quiet_hours(q), 10 ** np.array(q), color=c, lw=1.0)
    ax2.plot(ah, 10 ** np.array(e), color=c, lw=1.0)
    side_label(ax2, name, 10 ** e[-1], c, up=5)

# black trace has its label pushed aside
tr2 = mtransforms.blended_transform_factory(ax2.transAxes, ax2.transData)
ax2.plot([1.0051, 1.0182], [10 ** 2.1, 10 ** 2.1], color='black', lw=1.6,
         transform=tr2, clip_on=False)
ax2.annotate('I6', xy=(1.0381, 10 ** 2.38), xycoords=tr2, ha='left', va='center', fontsize=17)
ax2.text(0.0262, 0.952, 'GOES-7 Electrons and GOES-7 Protons & α-Particles (5-Min Avgs)',
         transform=ax2.transAxes, fontsize=17, va='center', ha='left')

# ---- panel 3: magnetic field
time_axis(ax3)
ax3.set_ylim(-200, 200)
ax3.yaxis.set_major_locator(FixedLocator([-200, -100, 0, 100, 200]))
y_style(ax3, 19)
end_labels(ax3)
for yv in (-100, 100):
    ax3.axhline(yv, color=GRID, lw=0.9, ls=(0, (4, 7)), zorder=0.5)
ax3.axhline(0, color='black', lw=0.9, ls=(0, (4, 7)), zorder=0.5)
t, v = pairs(he)
ax3.plot(t, v, color='black', lw=1.0)
side_label(ax3, 'He', v[-1], '#0000ff', up=8)
ax3.text(0.0262, 0.0967, 'GOES-7 Magnetic Field (1-Min Avgs, 97.7°W)',
         transform=ax3.transAxes, fontsize=17, va='center', ha='left')
tr3 = mtransforms.blended_transform_factory(ax3.transData, ax3.transAxes)
ax3.plot(local_midnight, [-0.017] * len(local_midnight), ls='none', marker='^', ms=7,
         color='black', transform=tr3, clip_on=False)
ax3.plot(local_noon, [-0.017] * len(local_noon), ls='none', marker='^', ms=7, mfc='none',
         mec='black', mew=1.0, transform=tr3, clip_on=False)

# ---- panel 4: neutron monitor
time_axis(ax4)
ax4.set_ylim(80, 120)
ax4.yaxis.set_major_locator(FixedLocator([80, 90, 100, 110, 120]))
ax4.yaxis.set_minor_locator(FixedLocator([85, 95, 105, 115]))
y_style(ax4, 19)
end_labels(ax4)
for yv in (90, 110):
    ax4.axhline(yv, color=GRID, lw=0.9, ls=(0, (2, 4)), zorder=0.5)
hrs = np.arange(len(neutron))
nv = np.array(neutron)
ax4.bar(hrs, nv - 100, bottom=100, width=1.0, align='edge', color='#646464',
        edgecolor='none', zorder=1)
over = nv > 120
ax4.bar(hrs[over], nv[over] - 120, bottom=120, width=1.0, align='edge', color='#c8c8c8',
        edgecolor='none', zorder=1, clip_on=False)
ax4.axhline(100, color='black', lw=1.4, zorder=2)
ax4.text(0.0262, 0.829, 'McMurdo Neutron Monitor (final, hourly, % of monthly mean)',
         transform=ax4.transAxes, fontsize=17, va='center', ha='left', zorder=3)
ax4.tick_params(axis='x', labelbottom=True, labelsize=17, pad=7)
ax4.xaxis.set_major_formatter(FuncFormatter(lambda x, p: '%02d:00' % (int(round(x)) % 24)))

# ---- outer texts
fig.text(0.5132, 1 - 5 / 1462, 'GOES Space Environment Monitor', ha='center',
         va='baseline', fontsize=28)
fig.text(0.0127, 0.8817, 'Watts/m²', rotation=90, ha='center', va='center', fontsize=21)
fig.text(0.0178, 0.5992, 'Particles/cm²sec sr', rotation=90, ha='center', va='center',
         fontsize=20)
fig.text(0.0158, 0.2859, 'nT', rotation=90, ha='center', va='center', fontsize=20)
fig.text(0.0178, 0.1204, '%', rotation=90, ha='center', va='center', fontsize=20)
fig.text(0.0625, 0.0369, '19', ha='center', va='center', fontsize=22)
fig.text(0.5089, 0.0369, '20', ha='center', va='center', fontsize=22)
fig.text(0.0625, 0.0123, 'October 1989', ha='left', va='center', fontsize=23)
fig.text(0.5089, 0.0123, 'Universal Time', ha='center', va='center', fontsize=23)

fig.savefig('out.png', dpi=100)
